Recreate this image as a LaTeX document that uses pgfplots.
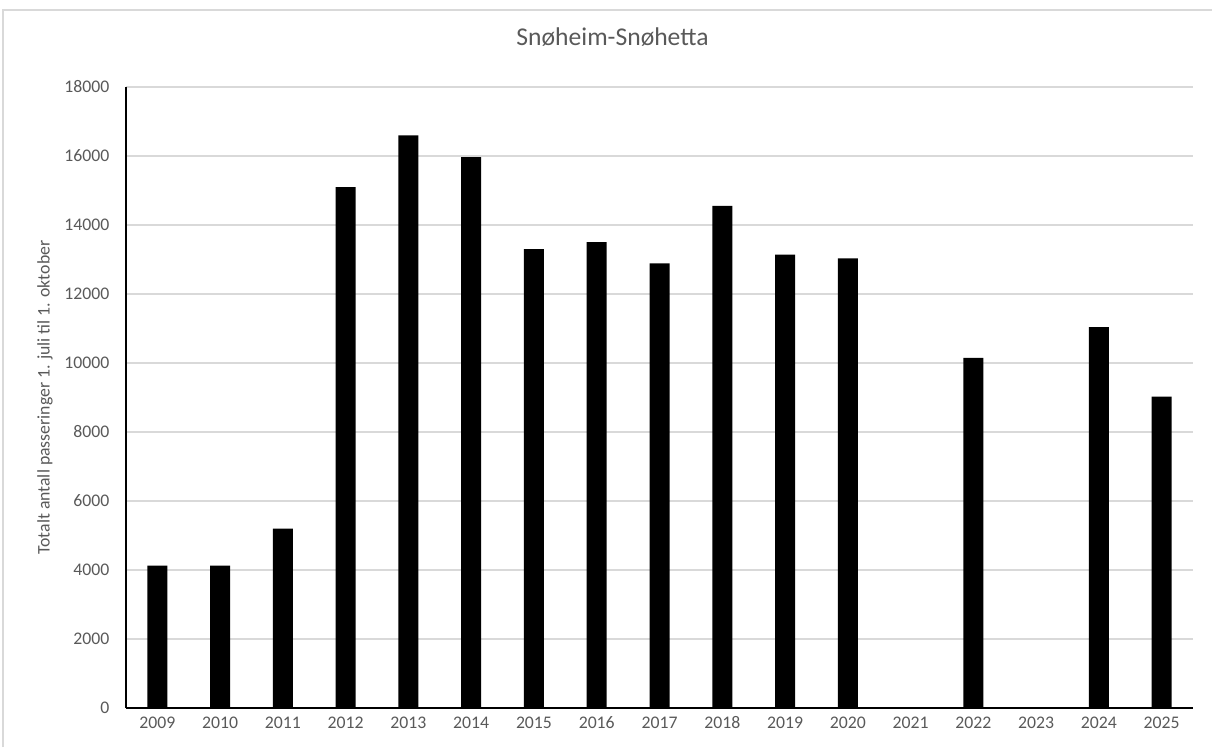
\documentclass[border=0pt]{standalone}
\usepackage{fontspec}
\setmainfont{Carlito}
\usepackage{pgfplots}
\pgfplotsset{compat=1.18}
\definecolor{txt}{HTML}{595959}
\definecolor{gridc}{HTML}{D9D9D9}

\begin{document}
\begin{tikzpicture}
% page = 1212 x 747 px, 1 px = 0.75pt
\useasboundingbox (0pt,0pt) rectangle (909pt,560.25pt);
\draw[gridc, line width=1.2pt] (2.25pt,0pt) -- (2.25pt,552.75pt) -- (909pt,552.75pt);
\begin{axis}[at={(94.5pt,29.25pt)}, anchor=south west, scale only axis,
             width=800.25pt, height=465.75pt,
             xmin=-0.5, xmax=16.5, ymin=0, ymax=18000,
             axis x line=bottom, axis y line=left,
             axis line style={black, line width=1.1pt, -},
             xtick={0,...,16},
             xticklabels={2009,2010,2011,2012,2013,2014,2015,2016,2017,2018,2019,2020,2021,2022,2023,2024,2025},
             ytick={0,2000,...,18000},
             scaled y ticks=false,
             major tick length=0pt,
             ymajorgrids, grid style={gridc, line width=1pt},
             /pgf/number format/assume math mode=true,
             /pgf/number format/1000 sep={},
             ticklabel style={font=\fontsize{13.3}{16}\selectfont, text=txt},
             xticklabel style={yshift=-3pt},
             yticklabel style={xshift=-9pt},
             ylabel={Totalt antall passeringer 1. juli til 1. oktober},
             ylabel style={at={(axis description cs:-0.0759,0.5)}, anchor=center,
                           font=\fontsize{13.3}{16}\selectfont, text=txt},
             title={Snøheim-Snøhetta},
             title style={at={(axis description cs:0.456,1.0676)}, anchor=center,
                          font=\fontsize{19.2}{23}\selectfont, text=txt},
             ybar, bar width=15pt]
\addplot[fill=black, draw=none] coordinates {
  (0,4130) (1,4130) (2,5200) (3,15100) (4,16600) (5,15970)
  (6,13300) (7,13500) (8,12890) (9,14555) (10,13140) (11,13035)
  (13,10145) (15,11040) (16,9025)
};
\end{axis}
\end{tikzpicture}
\end{document}
